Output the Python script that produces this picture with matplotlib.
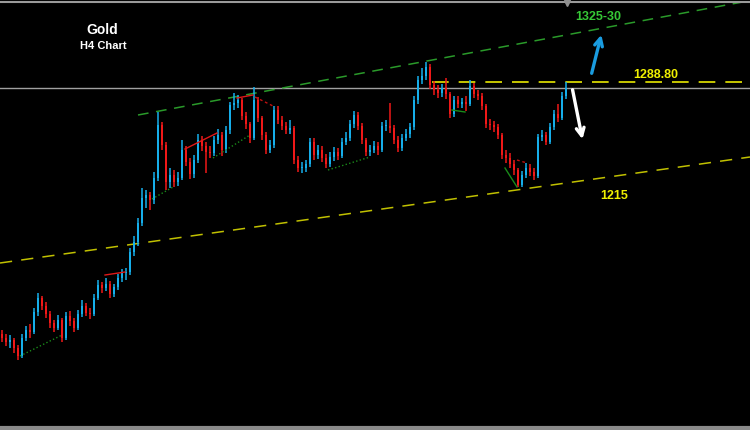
import matplotlib
matplotlib.use("Agg")
import matplotlib.pyplot as plt
import numpy as np

# Gold H4 candles (price units), open of each bar = previous close
first_open = 1163
closes = [1161, 1159, 1160, 1156, 1152, 1161, 1165, 1164, 1174, 1181,
          1177, 1173, 1168.5, 1166, 1170, 1161, 1172, 1169.5, 1166, 1173,
          1177, 1173.5, 1173, 1181, 1187.5, 1186, 1188, 1183, 1186.5, 1191,
          1193.5, 1194, 1204, 1209, 1218.5, 1231, 1232.5, 1230, 1241, 1267.5,
          1257.5, 1239, 1242.5, 1239, 1241, 1255, 1249, 1243, 1250, 1260,
          1257, 1254, 1253.5, 1260, 1262.5, 1255, 1265, 1277.5, 1278.5, 1280,
          1272, 1268, 1261, 1280, 1271, 1262.5, 1255, 1257.5, 1275, 1270,
          1267, 1265, 1266, 1250, 1246, 1246, 1248, 1259, 1252.5, 1255,
          1251, 1248, 1251.5, 1254, 1252, 1259, 1261, 1268, 1272.5, 1267,
          1260, 1254, 1255, 1257, 1255, 1267, 1267, 1266, 1260, 1256,
          1261, 1263, 1266.5, 1280, 1290, 1292, 1296.5, 1287.5, 1285, 1283.5,
          1286, 1283, 1273, 1280, 1278, 1279, 1278, 1287, 1283, 1282,
          1277, 1268, 1267.5, 1266.5, 1262.5, 1252.5, 1251, 1248, 1245, 1237.5,
          1242.5, 1246, 1244, 1242, 1261.5, 1262.5, 1259, 1266.5, 1273, 1271,
          1282, 1286]
highs = [1165, 1163, 1162.5, 1161, 1157.5, 1163, 1167, 1168, 1176, 1183.5,
         1182, 1179, 1174.5, 1170, 1172.5, 1171, 1174, 1174.5, 1171, 1175,
         1180, 1178.5, 1176, 1183, 1190, 1189, 1191, 1189.5, 1188, 1193,
         1195.5, 1196, 1206, 1212, 1221, 1236, 1235, 1234, 1244, 1274,
         1269, 1259, 1246, 1245, 1244, 1260, 1257, 1251, 1252.5, 1263,
         1262, 1259, 1257, 1262, 1265.5, 1264, 1267, 1279, 1283.5, 1282.5,
         1281, 1274, 1269, 1286.5, 1281.5, 1272, 1264, 1260, 1277, 1277,
         1272, 1269, 1270, 1267, 1252, 1249, 1250, 1261, 1261, 1257.5,
         1257, 1253, 1254, 1256.5, 1256, 1261, 1264, 1270, 1274.5, 1274,
         1268.5, 1261, 1257.5, 1259.5, 1259, 1269, 1270, 1278.5, 1267.5, 1262,
         1263, 1265.5, 1268.5, 1282, 1292, 1296, 1299, 1298, 1289.5, 1287.5,
         1288, 1291, 1284, 1282, 1282, 1281, 1282, 1290, 1288.5, 1285,
         1283.5, 1278, 1270.5, 1269.5, 1268, 1263.5, 1255, 1253.5, 1250, 1246,
         1244.5, 1248.5, 1248, 1246, 1263, 1265, 1264, 1268.5, 1275, 1278,
         1284, 1289]
lows = [1159, 1157, 1156, 1153.5, 1150, 1151, 1159.5, 1161, 1163, 1172,
        1175, 1171, 1166, 1164, 1165, 1159, 1160, 1167, 1164, 1165,
        1171.5, 1172, 1170.5, 1172, 1180, 1183.5, 1184.5, 1181, 1181.5, 1185,
        1189, 1190, 1192.5, 1202, 1207, 1217, 1226, 1225, 1228, 1239.5,
        1255, 1235, 1236, 1236.5, 1237, 1240, 1247, 1240.5, 1241, 1248.5,
        1254.5, 1243.5, 1251, 1252, 1258, 1252, 1253.5, 1263, 1275, 1276,
        1270, 1265.5, 1258.5, 1260, 1269, 1260, 1253, 1253.5, 1256, 1268,
        1265, 1263, 1263, 1248, 1244, 1243.5, 1244, 1246.5, 1250, 1250.5,
        1249, 1246, 1246.5, 1249.5, 1250, 1251, 1257.5, 1259.5, 1266, 1265,
        1258, 1252, 1252, 1253.5, 1252.5, 1254, 1264.5, 1263.5, 1258, 1254,
        1254.5, 1259.5, 1261, 1265, 1278, 1288, 1290, 1285.5, 1282.5, 1281,
        1281.5, 1280.5, 1271, 1271.5, 1276, 1276, 1274.5, 1277, 1281, 1280,
        1275, 1266, 1265, 1264, 1260.5, 1250.5, 1248.5, 1246, 1242.5, 1236.5,
        1236.5, 1241, 1242, 1240, 1241, 1259.5, 1257.5, 1258, 1265, 1269,
        1270, 1280.5]

# drawn objects on the chart: (x0, y0, x1, y1) in bar index / price
upper_channel = (34, 1272.5, 187, 1329.7)
lower_channel = (-0.5, 1198.5, 187, 1251.5)
resistance = 1288.8
bid_price = 1286
green_marks = [(4.5, 1152, 15, 1162.5), (37.5, 1230.5, 42.75, 1236.5),
               (52.75, 1251, 62, 1262.5), (81.5, 1245, 92, 1251.5)]
green_solid = [(112.5, 1275, 115.75, 1274), (125.75, 1246, 128.75, 1236.5)]
red_solid = [(25.75, 1192.5, 30.75, 1194), (45.75, 1255.5, 53.75, 1263.5),
             (58.75, 1281, 62.75, 1282.5)]
red_dotted = [(63.25, 1281.5, 68.25, 1276.5), (128.75, 1250, 131.25, 1248.5)]

up_color = "#16aeea"
down_color = "#f01818"

closes = np.array(closes, dtype=float)
opens = np.concatenate([[first_open], closes[:-1]])
highs = np.array(highs, dtype=float)
lows = np.array(lows, dtype=float)
idx = np.arange(len(closes))
colors = np.where(closes >= opens, up_color, down_color)

fig = plt.figure(figsize=(7.5, 4.3), dpi=100, facecolor="black")
ax = fig.add_axes([0, 0, 1, 1])
ax.set_facecolor("black")
ax.set_xlim(-0.5, 187)
ax.set_ylim(1115, 1330)
ax.axis("off")

# candles
ax.vlines(idx, lows, highs, colors=colors, linewidth=1.1, zorder=3)
bottoms = np.minimum(opens, closes)
heights = np.maximum(np.abs(closes - opens), 0.6)
ax.bar(idx, heights, bottom=bottoms, width=0.72, color=colors, linewidth=0, zorder=3)

# channel and levels
x0, y0, x1, y1 = upper_channel
ax.plot([x0, x1], [y0, y1], color="#2a9a2a", lw=1.1, dashes=(7, 5), zorder=2)
x0, y0, x1, y1 = lower_channel
ax.plot([x0, x1], [y0, y1], color="#c0c000", lw=1.1, dashes=(8, 6), zorder=2)
ax.plot([107.5, 187], [resistance, resistance], color="#e8e800", lw=1.2, dashes=(10, 6), zorder=2)
ax.axhline(bid_price, color="#a0a0a0", lw=1, zorder=1)

for x0, y0, x1, y1 in green_marks:
    ax.plot([x0, x1], [y0, y1], color="#1a8a1a", lw=1, linestyle=":", zorder=4)
for x0, y0, x1, y1 in green_solid:
    ax.plot([x0, x1], [y0, y1], color="#1a8a1a", lw=1, zorder=4)
for x0, y0, x1, y1 in red_solid:
    ax.plot([x0, x1], [y0, y1], color="#e01818", lw=1, zorder=4)
for x0, y0, x1, y1 in red_dotted:
    ax.plot([x0, x1], [y0, y1], color="#c01010", lw=1, dashes=(2, 2), zorder=4)

# frame lines
ax.axhline(1329, color="#9a9a9a", lw=1.5)
ax.axhline(1116, color="#8a8a8a", lw=3)
ax.plot([141.25], [1328.3], marker="v", color="#909090", markersize=5)

# arrows
ax.annotate("", xy=(150, 1314), xytext=(147.25, 1292),
            arrowprops=dict(arrowstyle="->", color="#1a9ce0", lw=2.4, mutation_scale=14))
ax.annotate("", xy=(145.25, 1259), xytext=(142.5, 1286.5),
            arrowprops=dict(arrowstyle="->", color="white", lw=2.4, mutation_scale=14))

# labels
font = "Liberation Sans"
ax.text(25, 1315, "Gold", color="white", fontsize=10, fontweight="bold",
        family=font, ha="center", va="center")
ax.text(25.25, 1307, "H4 Chart", color="white", fontsize=8, fontweight="bold",
        family=font, ha="center", va="center")
ax.text(149, 1321.5, "1325-30", color="#36c836", fontsize=9, fontweight="bold",
        family=font, ha="center", va="center")
ax.text(163.5, 1289.6, "1288.80", color="#f0f000", fontsize=9, fontweight="bold",
        family=font, ha="center", va="bottom")
ax.text(153, 1232, "1215", color="#f0f000", fontsize=9, fontweight="bold",
        family=font, ha="center", va="center")

fig.savefig("out.png", dpi=100, facecolor="black")
